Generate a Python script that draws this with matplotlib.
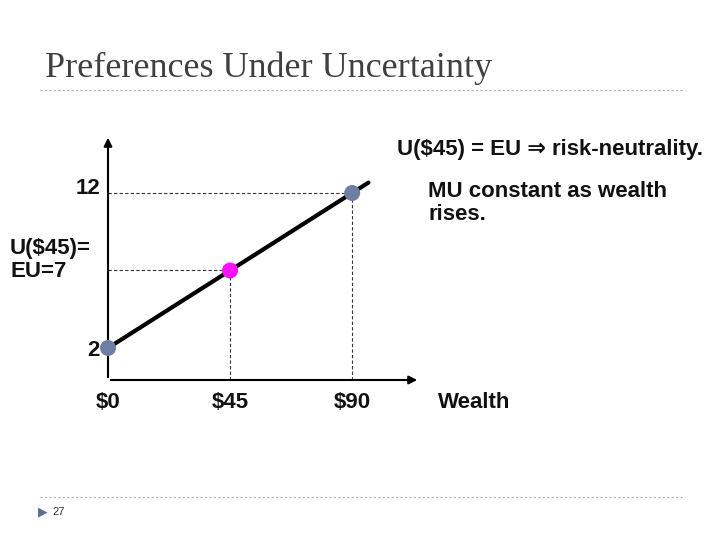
import matplotlib
matplotlib.use("Agg")
import matplotlib.pyplot as plt
from matplotlib.lines import Line2D

wealth = [0, 45, 90]
utility = [2, 7, 12]
wealth_labels = ["$0", "$45", "$90"]
line_w = [0, 96]
line_u = [2, 12.67]

fam = ['Liberation Sans', 'DejaVu Sans']
fig = plt.figure(figsize=(7.2, 5.4), dpi=100)
fig.patch.set_facecolor('white')

def px(x, y):
    return x / 720, 1 - y / 540

fig.text(*px(45, 68), "Preferences Under Uncertainty", family='Liberation Serif',
         fontsize=26, color='#404040', va='center', ha='left')
for yy in (90, 497):
    fig.add_artist(Line2D([40/720, 685/720], [1-yy/540]*2, color='#b0b0b0',
                          lw=0.8, ls=(0, (2, 2))))
fig.text(*px(52, 512), "27", family=fam, fontsize=8, color='#333333', va='center')
fig.text(*px(38, 512), "\u25B6", family=fam, fontsize=9, color='#5a7090', va='center')

ax = fig.add_axes([108/720, 160/540, 312/720, 245/540])
ax.set_xlim(0, 115)
ax.set_ylim(-0.065, 15.74)
for s in ax.spines.values():
    s.set_visible(False)
ax.set_xticks([]); ax.set_yticks([])
ax.patch.set_alpha(0)
ax.annotate("", xy=(115, -0.065), xytext=(0, -0.065),
            arrowprops=dict(arrowstyle='-|>', color='black', lw=1.5, mutation_scale=12), annotation_clip=False)
ax.annotate("", xy=(0, 15.74), xytext=(0, -0.065),
            arrowprops=dict(arrowstyle='-|>', color='black', lw=1.5, mutation_scale=12), annotation_clip=False)

ax.plot(line_w, line_u, color='black', lw=3, solid_capstyle='round')
for w, u in zip(wealth[1:], utility[1:]):
    ax.plot([0, w], [u, u], color='#333333', lw=0.8, ls=(0, (3, 2)))
    ax.plot([w, w], [-0.065, u], color='#333333', lw=0.8, ls=(0, (3, 2)))
colors = ['#6f7fa3', '#ff10ff', '#6f7fa3']
ax.scatter(wealth, utility, s=110, c=colors, zorder=5, clip_on=False)

fs = 16
kw = dict(family=fam, fontsize=fs, fontweight='bold', color='#111111')
for w, lab in zip(wealth, wealth_labels):
    ax.text(w, -1.5, lab, ha='center', va='center', **kw)
fig.text(*px(438, 403), "Wealth", va='center', **kw)
fig.text(*px(100, 188), "12", va='center', ha='right', **kw)
fig.text(*px(100, 350), "2", va='center', ha='right', **kw)
fig.text(*px(10, 260), "U($45)=\nEU=7", va='center', ha='left', linespacing=1.1, **kw)
fig.text(*px(703, 150), "U($45) = EU \u21D2 risk-neutrality.", va='center', ha='right', **kw)
fig.text(*px(428, 203), "MU constant as wealth\nrises.", va='center', ha='left',
         linespacing=1.1, **kw)

fig.savefig("out.png", dpi=100)
